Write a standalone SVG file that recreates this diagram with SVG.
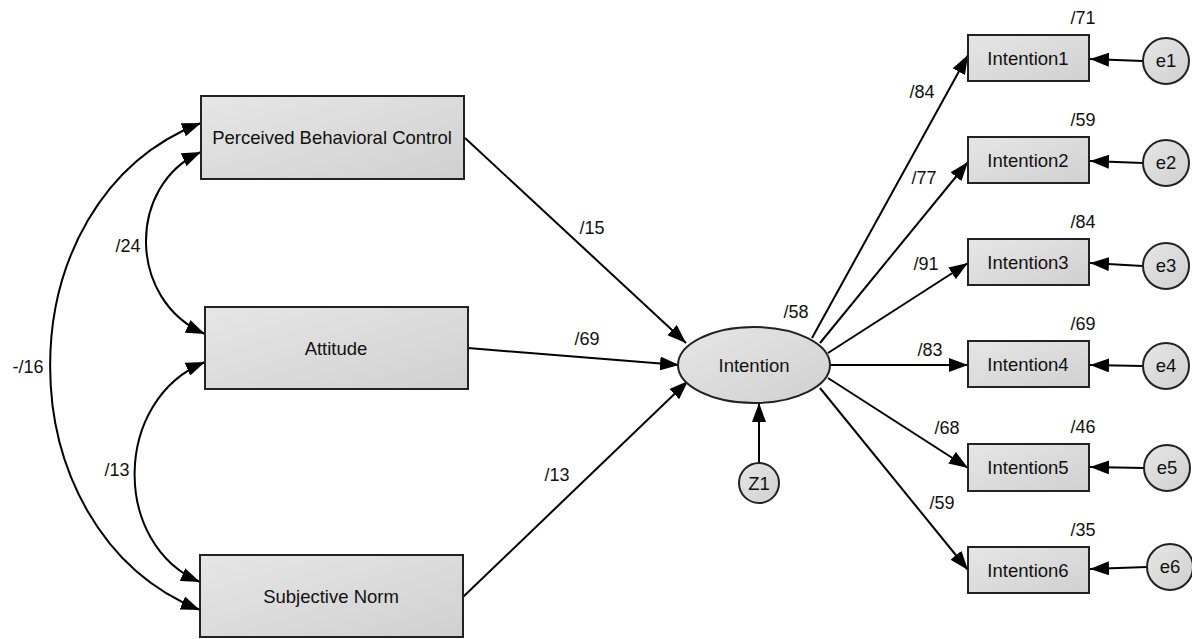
<svg xmlns="http://www.w3.org/2000/svg" width="1192" height="639" viewBox="0 0 1192 639">
<defs>
<linearGradient id="g" x1="0" y1="0" x2="1" y2="1">
<stop offset="0" stop-color="#e6e6e6"/>
<stop offset="1" stop-color="#d0d0d0"/>
</linearGradient>
<marker id="ah" markerUnits="userSpaceOnUse" markerWidth="20" markerHeight="14" viewBox="0 0 20 14" refX="19" refY="7" orient="auto-start-reverse">
<path d="M0,0 L19,7 L0,14 z" fill="#000"/>
</marker>
<style>
.box{fill:url(#g);stroke:#222;stroke-width:2}
.t{font-family:"Liberation Sans",Arial,sans-serif;font-size:18.5px;fill:#111;text-anchor:middle}
.l{font-family:"Liberation Sans",Arial,sans-serif;font-size:18px;fill:#111;text-anchor:middle}
.c{fill:none;stroke:#000;stroke-width:2}
</style>
</defs>
<rect width="1192" height="639" fill="#fff"/>
<g id="connectors">
<path class="c" d="M201,152 C127,185 127,300 205,334" marker-start="url(#ah)" marker-end="url(#ah)"/>
<path class="c" d="M205,362 C112,400 112,545 200,582" marker-start="url(#ah)" marker-end="url(#ah)"/>
<path class="c" d="M201,123 C0,200 0,530 200,610" marker-start="url(#ah)" marker-end="url(#ah)"/>
<path class="c" d="M465,138 L686,343" marker-end="url(#ah)"/>
<path class="c" d="M468,348 L679,365" marker-end="url(#ah)"/>
<path class="c" d="M463,597 L688,381" marker-end="url(#ah)"/>
<path class="c" d="M759,463 L759,403" marker-end="url(#ah)"/>
<path class="c" d="M812,338 L968,55" marker-end="url(#ah)"/>
<path class="c" d="M820,343 L968,162" marker-end="url(#ah)"/>
<path class="c" d="M828,353 L968,263" marker-end="url(#ah)"/>
<path class="c" d="M830,365 L968,365" marker-end="url(#ah)"/>
<path class="c" d="M828,378 L968,468" marker-end="url(#ah)"/>
<path class="c" d="M820,388 L968,570" marker-end="url(#ah)"/>
<path class="c" d="M1143,61 L1090,59" marker-end="url(#ah)"/>
<path class="c" d="M1143,163 L1090,161" marker-end="url(#ah)"/>
<path class="c" d="M1143,266 L1090,263" marker-end="url(#ah)"/>
<path class="c" d="M1143,366 L1090,365" marker-end="url(#ah)"/>
<path class="c" d="M1144,468 L1090,467" marker-end="url(#ah)"/>
<path class="c" d="M1147,567 L1090,569" marker-end="url(#ah)"/>
<text class="l" x="128" y="252">/24</text>
<text class="l" x="117" y="476">/13</text>
<text class="l" x="28" y="373">-/16</text>
<text class="l" x="592" y="234">/15</text>
<text class="l" x="587" y="345">/69</text>
<text class="l" x="557" y="481">/13</text>
<text class="l" x="796" y="318">/58</text>
<text class="l" x="922" y="98">/84</text>
<text class="l" x="924" y="184">/77</text>
<text class="l" x="926" y="270">/91</text>
<text class="l" x="930" y="356">/83</text>
<text class="l" x="947" y="434">/68</text>
<text class="l" x="942" y="509">/59</text>
</g>
<g id="pbc"><rect class="box" x="201" y="96" width="263" height="83"/><text class="t" x="332" y="144">Perceived Behavioral Control</text></g>
<g id="attitude"><rect class="box" x="205" y="307" width="263" height="82"/><text class="t" x="336" y="355">Attitude</text></g>
<g id="sn"><rect class="box" x="200" y="555" width="263" height="82"/><text class="t" x="331" y="603">Subjective Norm</text></g>
<g id="intention"><ellipse class="box" cx="754" cy="365" rx="76" ry="38"/><text class="t" x="754" y="372">Intention</text></g>
<g id="z1"><circle class="box" cx="759" cy="483" r="20"/><text class="t" x="759" y="490">Z1</text></g>
<g id="i1"><rect class="box" x="968" y="35" width="121" height="46"/><text class="t" x="1028" y="65">Intention1</text><text class="l" x="1083" y="24">/71</text></g>
<g id="i2"><rect class="box" x="968" y="137" width="121" height="46"/><text class="t" x="1028" y="167">Intention2</text><text class="l" x="1083" y="126">/59</text></g>
<g id="i3"><rect class="box" x="968" y="239" width="121" height="46"/><text class="t" x="1028" y="269">Intention3</text><text class="l" x="1083" y="228">/84</text></g>
<g id="i4"><rect class="box" x="968" y="341" width="121" height="46"/><text class="t" x="1028" y="371">Intention4</text><text class="l" x="1083" y="330">/69</text></g>
<g id="i5"><rect class="box" x="968" y="444" width="121" height="47"/><text class="t" x="1028" y="474">Intention5</text><text class="l" x="1083" y="433">/46</text></g>
<g id="i6"><rect class="box" x="968" y="547" width="121" height="46"/><text class="t" x="1028" y="577">Intention6</text><text class="l" x="1083" y="536">/35</text></g>
<g id="e1"><circle class="box" cx="1166" cy="61" r="23"/><text class="t" x="1166" y="67">e1</text></g>
<g id="e2"><circle class="box" cx="1166" cy="163" r="23"/><text class="t" x="1166" y="169">e2</text></g>
<g id="e3"><circle class="box" cx="1166" cy="266" r="23"/><text class="t" x="1166" y="272">e3</text></g>
<g id="e4"><circle class="box" cx="1166" cy="366" r="23"/><text class="t" x="1166" y="372">e4</text></g>
<g id="e5"><circle class="box" cx="1167" cy="468" r="23"/><text class="t" x="1167" y="474">e5</text></g>
<g id="e6"><circle class="box" cx="1170" cy="567" r="23"/><text class="t" x="1170" y="573">e6</text></g>
</svg>
